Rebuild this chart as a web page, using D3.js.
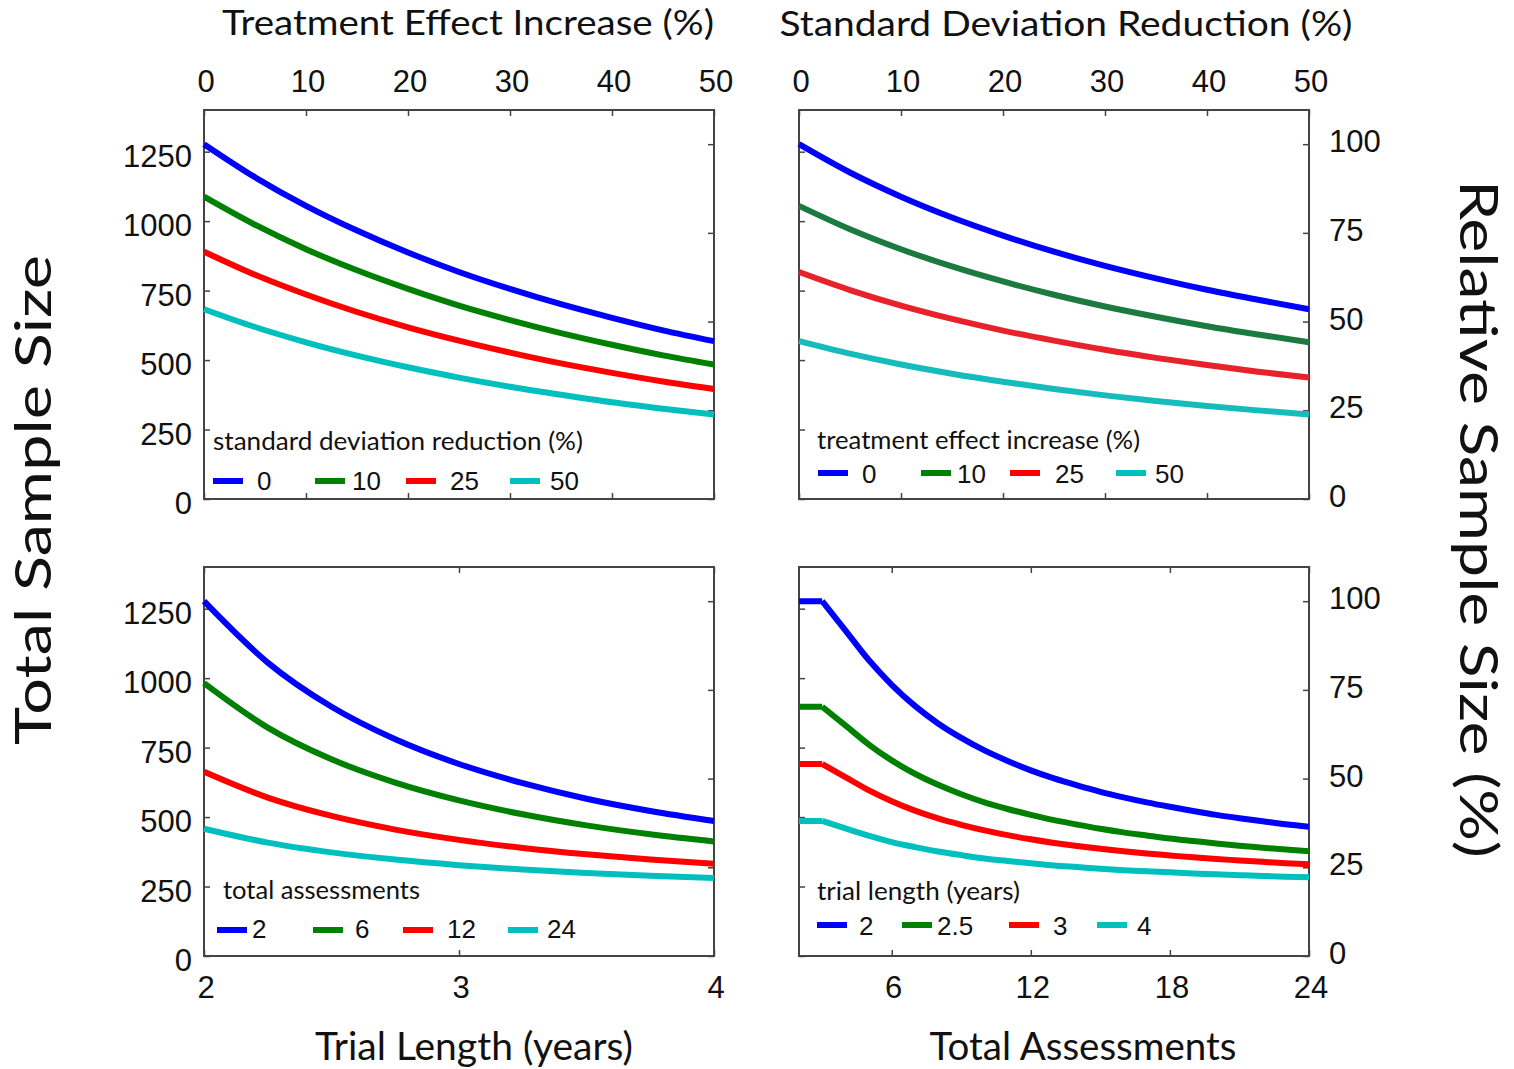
<!DOCTYPE html>
<html>
<head>
<meta charset="utf-8">
<script src="https://cdn.jsdelivr.net/npm/d3@7/dist/d3.min.js"></script>
<style>
  body{margin:0;background:#fff;}
  .tick-lab{font-family:"Liberation Sans",Arial,sans-serif;font-size:31px;fill:#111;}
  .leg-lab{font-family:"Liberation Sans",Arial,sans-serif;font-size:26px;fill:#111;}
  .leg-title{font-family:Lato,"Open Sans",sans-serif;font-size:25px;fill:#111;}
  .ax-title{font-family:Lato,"Open Sans",sans-serif;fill:#111;}
</style>
</head>
<body>
<script>
var width=1514,height=1069;

// ---- data ----
var baseline=1277;                 // sample size that counts as 100 %
var sizeTicks=[0,250,500,750,1000,1250];
var relTicks=[0,25,50,75,100];

// top left: x = treatment effect increase (%), one row per SD reduction
var effectPct=[0,5,10,15,20,25,30,35,40,45,50];
var sdLevels=["0","10","25","50"];
var sizeByEffect=[
  [1277,1158,1055,966,887,817,756,701,652,607,568],
  [1088,987,899,823,756,696,644,597,555,517,484],
  [890,807,736,673,618,570,527,488,454,423,396],
  [683,619,564,516,474,437,404,375,348,325,304]
];

// top right: x = standard deviation reduction (%), one row per effect increase
var sdPct=[0,5,10,15,20,25,30,35,40,45,50];
var effectLevels=["0","10","25","50"];
var sizeBySd=[
  [1277,1175,1088,1013,948,890,839,794,753,717,683],
  [1055,971,899,837,783,735,693,656,622,592,564],
  [817,752,696,648,606,570,537,508,482,458,437],
  [568,523,484,451,422,396,373,353,335,319,304]
];

// bottom left: x = trial length (years), one row per total assessments
var trialYears=[2,2.25,2.5,2.75,3,3.25,3.5,3.75,4];
var assessLevels=["2","6","12","24"];
var sizeByYears=[
  [1277,1056,897,780,691,622,566,522,486],
  [982,822,708,624,560,510,470,438,412],
  [663,570,504,455,418,389,366,347,332],
  [458,408,373,347,327,311,299,289,281]
];

// bottom right: x = total assessments, one row per trial length
var assessments=[2,3,4,5,6,7,8,9,10,11,12,13,14,15,16,17,18,19,20,21,22,23,24];
var yearLevels=["2","2.5","3","4"];
var sizeByAssess=[
  [1277,1277,1172,1066,976,900,837,785,740,702,668,639,614,591,571,553,537,522,508,496,485,474,465],
  [897,897,830,762,704,656,616,582,553,529,508,489,473,458,445,434,423,414,405,397,390,383,377],
  [691,691,644,597,557,523,495,472,452,435,420,407,396,386,377,369,362,355,349,344,339,334,330],
  [486,486,459,433,410,392,376,363,351,342,334,326,320,314,309,305,301,297,294,291,288,285,283]
];

var colors=["#0000ff","#008000","#ff0000","#00bfbf"];

// ---- layout ----
var panels=[
  {x0:204,y0:110,w:510,h:389,xs:effectPct,rows:sizeByEffect,names:sdLevels,
   xDomain:[0,50],xTicks:[0,10,20,30,40,50],labelSide:"top",yLabels:"left",
   breakAt:0,lineColors:colors,
   legTitle:"standard deviation reduction (%)",legTitleX:213,legTitleY:450,legTitleLen:370,
   legLineX:[213,315,406,510],legLineY:481,legLabX:[257,352,450,550],legLabY:490},
  {x0:799,y0:110,w:510,h:389,xs:sdPct,rows:sizeBySd,names:effectLevels,
   xDomain:[0,50],xTicks:[0,10,20,30,40,50],labelSide:"top",yLabels:"right",
   breakAt:0,lineColors:["#0000ff","#1b7a40","#e8222b","#16bcbc"],
   legTitle:"treatment effect increase (%)",legTitleX:817,legTitleY:449,legTitleLen:323,
   legLineX:[818,921,1010,1116],legLineY:473,legLabX:[862,957,1055,1155],legLabY:483},
  {x0:204,y0:567,w:510,h:389,xs:trialYears,rows:sizeByYears,names:assessLevels,
   xDomain:[2,4],xTicks:[2,3,4],labelSide:"bottom",yLabels:"left",
   breakAt:0,lineColors:colors,
   legTitle:"total assessments",legTitleX:223,legTitleY:899,legTitleLen:197,
   legLineX:[217,313,403,508],legLineY:930,legLabX:[252,355,447,547],legLabY:938},
  {x0:799,y0:567,w:510,h:389,xs:assessments,rows:sizeByAssess,names:yearLevels,
   xDomain:[2,24],xTicks:[6,12,18,24],labelSide:"bottom",yLabels:"right",
   breakAt:1,lineColors:colors,   // flat 2..3 part meets the curve at a corner
   legTitle:"trial length (years)",legTitleX:817,legTitleY:900,legTitleLen:203,
   legLineX:[817,902,1009,1097],legLineY:925,legLabX:[859,937,1053,1137],legLabY:935}
];

var svg=d3.select("body").append("svg")
          .attr("width",width)
          .attr("height",height);

var boxColor="#444",tickLen=6;

panels.forEach(function(p){
    var x=d3.scaleLinear().domain(p.xDomain).range([p.x0,p.x0+p.w]);
    var y=d3.scaleLinear().domain([0,1400]).range([p.y0+p.h,p.y0]);
    var rel=d3.scaleLinear().domain([0,1400/baseline*100]).range([p.y0+p.h,p.y0]);
    var g=svg.append("g");

    // inward ticks on all four sides
    var axes=[
      d3.axisBottom(x).tickValues(p.xTicks).tickSizeInner(-tickLen).tickSizeOuter(0).tickFormat(""),
      d3.axisTop(x).tickValues(p.xTicks).tickSizeInner(-tickLen).tickSizeOuter(0).tickFormat(""),
      d3.axisLeft(y).tickValues(sizeTicks).tickSizeInner(-tickLen).tickSizeOuter(0).tickFormat(""),
      d3.axisRight(rel).tickValues(relTicks).tickSizeInner(-tickLen).tickSizeOuter(0).tickFormat("")
    ];
    var trans=["translate(0,"+(p.y0+p.h)+")","translate(0,"+p.y0+")",
               "translate("+p.x0+",0)","translate("+(p.x0+p.w)+",0)"];
    axes.forEach(function(a,i){
        var ag=g.append("g").attr("transform",trans[i]).call(a);
        ag.select(".domain").remove();
        ag.selectAll("line").attr("stroke",boxColor).attr("stroke-width",1.5);
    });

    // x tick labels
    g.selectAll(".xl").data(p.xTicks).enter().append("text")
      .attr("class","tick-lab")
      .attr("x",function(d){return x(d)+2;})
      .attr("y",p.labelSide=="top"?p.y0-18:p.y0+p.h+42)
      .attr("text-anchor","middle")
      .text(function(d){return d;});

    // y tick labels
    if(p.yLabels=="left"){
        g.selectAll(".yl").data(sizeTicks).enter().append("text")
          .attr("class","tick-lab")
          .attr("x",p.x0-12)
          .attr("y",function(d){return y(d)+15;})
          .attr("text-anchor","end")
          .text(function(d){return d;});
    }else{
        g.selectAll(".yl").data(relTicks).enter().append("text")
          .attr("class","tick-lab")
          .attr("x",p.x0+p.w+20)
          .attr("y",function(d){return rel(d)+8;})
          .attr("text-anchor","start")
          .text(function(d){return d;});
    }

    // box
    g.append("rect")
      .attr("x",p.x0).attr("y",p.y0)
      .attr("width",p.w).attr("height",p.h)
      .attr("fill","none").attr("stroke",boxColor).attr("stroke-width",2);

    // curves (optionally split at a corner so the smooth part starts sharp)
    var line=d3.line()
        .x(function(d){return x(d[0]);})
        .y(function(d){return y(d[1]);})
        .curve(d3.curveMonotoneX);
    p.rows.forEach(function(row,r){
        var pts=row.map(function(v,i){return [p.xs[i],v];});
        var pieces=p.breakAt>0?[pts.slice(0,p.breakAt+1),pts.slice(p.breakAt)]:[pts];
        g.append("path")
          .attr("d",pieces.map(function(s){return line(s);}).join(""))
          .attr("fill","none")
          .attr("stroke",p.lineColors[r])
          .attr("stroke-width",6)
          .attr("stroke-linejoin","round");
    });

    // legend
    g.append("text").attr("class","leg-title")
      .attr("x",p.legTitleX).attr("y",p.legTitleY)
      .attr("textLength",p.legTitleLen).attr("lengthAdjust","spacingAndGlyphs")
      .text(p.legTitle);
    p.names.forEach(function(n,i){
        g.append("line")
          .attr("x1",p.legLineX[i]).attr("x2",p.legLineX[i]+30)
          .attr("y1",p.legLineY).attr("y2",p.legLineY)
          .attr("stroke",colors[i]).attr("stroke-width",6);
        g.append("text").attr("class","leg-lab")
          .attr("x",p.legLabX[i]).attr("y",p.legLabY)
          .text(n);
    });
});

// axis titles
function title(txt,x,y,size,len,rot){
    var t=svg.append("text").attr("class","ax-title")
       .attr("text-anchor","middle")
       .attr("font-size",size)
       .attr("textLength",len).attr("lengthAdjust","spacingAndGlyphs")
       .text(txt);
    if(rot){
        t.attr("transform","translate("+x+","+y+") rotate("+rot+")");
    }else{
        t.attr("x",x).attr("y",y);
    }
}
title("Treatment Effect Increase (%)",468,35,35,492,0);
title("Standard Deviation Reduction (%)",1066,36,35,573,0);
title("Trial Length (years)",474,1060,38,318,0);
title("Total Assessments",1083,1060,38,307,0);
title("Total Sample Size",51,500,50,490,-90);
title("Relative Sample Size (%)",1460,519,52,678,90);
</script>
</body>
</html>
